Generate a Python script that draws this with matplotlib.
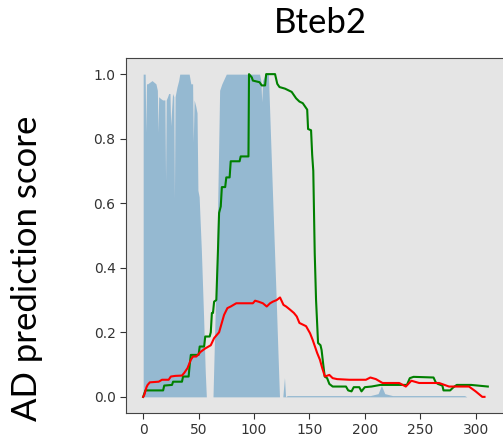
import numpy as np
import matplotlib
matplotlib.use("Agg")
import matplotlib.pyplot as plt

# residue positions / scores
blue_x = [0, 0, 1.8, 2.4, 3.0, 4.0, 8, 11.5, 12.8, 13.4, 14.0, 15.5, 17.5, 19.6, 20.2, 20.8,
          22.0, 23.0, 24.2, 24.8, 26.5, 27.6, 28.2, 28.8, 30.5, 32, 33, 41.5, 43, 44.6, 45.2,
          46.0, 47.5, 48.6, 49.4, 50.5, 52.5, 54.5, 56, 57, 63, 64.5, 66.5, 68, 69, 71, 75,
          105, 106.2, 107.0, 107.8, 109, 110, 113, 114, 115, 117, 120, 121.5, 123, 126, 127.5,
          128.5, 130, 205, 212, 215, 218, 225, 290, 292]
blue_y = [0.0, 1.0, 1.0, 0.82, 0.97, 0.97, 0.98, 0.97, 0.95, 0.82, 0.93, 0.925, 0.92, 0.92,
          0.667, 0.92, 0.93, 0.94, 0.94, 0.84, 0.94, 0.93, 0.615, 0.93, 0.96, 0.98, 1.0, 1.0,
          0.97, 0.97, 0.79, 0.92, 0.90, 0.88, 0.64, 0.62, 0.455, 0.25, 0.08, 0.0, 0.0, 0.2,
          0.455, 0.75, 0.95, 0.97, 1.0, 1.0, 0.98, 0.914, 0.98, 0.99, 1.0, 1.0, 0.9, 0.80, 0.6,
          0.306, 0.15, 0.0, 0.0, 0.06, 0.0, 0.004, 0.004, 0.01, 0.035, 0.01, 0.004, 0.004, 0.0]

green_x = [0, 2, 18, 19, 26, 27, 35, 36, 41, 42, 43, 50, 51, 55, 56, 60, 61, 62, 63, 64, 66,
           67.5, 68.5, 70, 71, 74, 75, 78, 79, 87, 88, 95, 95.5, 98, 99, 105, 107, 110, 111,
           119, 121, 123, 128, 131, 134, 136, 138, 141, 144, 146, 148, 148.8, 151.5, 152.5,
           153.5, 154.8, 156, 157.8, 160, 161, 162.5, 163.8, 166, 168, 171, 183, 185, 188,
           190, 195, 197, 200, 206, 214, 238, 240.6, 244, 262, 264, 266, 270, 271, 277, 280,
           283, 296, 311]
green_y = [0.0, 0.02, 0.02, 0.035, 0.037, 0.047, 0.047, 0.063, 0.063, 0.10, 0.13, 0.13, 0.156,
           0.156, 0.187, 0.187, 0.20, 0.26, 0.26, 0.295, 0.30, 0.455, 0.57, 0.59, 0.65, 0.65,
           0.68, 0.68, 0.73, 0.73, 0.745, 0.745, 1.0, 0.99, 0.98, 0.975, 0.965, 0.965, 1.0,
           1.0, 0.97, 0.96, 0.955, 0.95, 0.945, 0.935, 0.925, 0.915, 0.91, 0.90, 0.89, 0.83,
           0.826, 0.75, 0.70, 0.445, 0.30, 0.167, 0.16, 0.145, 0.10, 0.063, 0.058, 0.04, 0.032,
           0.032, 0.02, 0.017, 0.03, 0.03, 0.017, 0.03, 0.032, 0.037, 0.037, 0.058, 0.062,
           0.06, 0.045, 0.04, 0.035, 0.02, 0.02, 0.03, 0.037, 0.037, 0.032]

red_x = [0, 1, 3, 4, 6, 14, 17, 23, 25, 29, 35, 37, 40, 43, 45, 48, 52, 56, 61, 64, 68.5, 71,
         73, 76, 79, 84, 99, 101, 104, 108, 111.5, 114.5, 117, 120.5, 123.5, 126.6, 129, 132.6,
         136, 138.6, 141, 144.6, 147, 150.6, 153, 155, 157, 159.5, 161.5, 164, 168, 171, 175,
         186, 201, 205, 210, 216, 231, 237, 242, 249, 267, 276, 285, 294, 300, 306, 308]
red_y = [0.0, 0.006, 0.03, 0.037, 0.045, 0.047, 0.053, 0.053, 0.063, 0.065, 0.066, 0.074, 0.089,
         0.115, 0.125, 0.125, 0.14, 0.15, 0.16, 0.182, 0.20, 0.23, 0.254, 0.275, 0.28, 0.29,
         0.29, 0.298, 0.295, 0.29, 0.28, 0.29, 0.295, 0.30, 0.308, 0.285, 0.28, 0.27, 0.26,
         0.249, 0.229, 0.223, 0.219, 0.197, 0.176, 0.156, 0.136, 0.115, 0.09, 0.063, 0.068,
         0.058, 0.055, 0.053, 0.053, 0.06, 0.055, 0.043, 0.043, 0.032, 0.05, 0.043, 0.043,
         0.032, 0.032, 0.032, 0.017, 0.0, 0.0]

x_ticks = [0, 50, 100, 150, 200, 250, 300]
y_ticks = [0.0, 0.2, 0.4, 0.6, 0.8, 1.0]

fig = plt.figure(figsize=(5.03, 4.45), dpi=100)
ax = fig.add_axes([126 / 503, 1 - 413 / 445, 379 / 503, 355 / 445])
ax.set_facecolor("#e5e5e5")

ax.fill_between(blue_x, 0, blue_y, color="#1f77b4", alpha=0.4, linewidth=0)
ax.plot(green_x, green_y, color="green", lw=1.5)
ax.plot(red_x, red_y, color="red", lw=1.5)

ax.set_xlim(-15.5, 326.5)
ax.set_ylim(-0.05, 1.05)
ax.set_xticks(x_ticks)
ax.set_yticks(y_ticks)
ax.tick_params(labelsize=10, colors="#333333", length=4)
for s in ax.spines.values():
    s.set_color("#444444")

fig.text(320 / 503, 1 - 33 / 445, "Bteb2", family="Lato", fontsize=25,
         ha="center", va="baseline")
fig.text(27 / 503, 1 - 268 / 445, "AD prediction score", family="Lato", fontsize=25,
         rotation=90, ha="center", va="center")

fig.savefig("out.png", dpi=100)
